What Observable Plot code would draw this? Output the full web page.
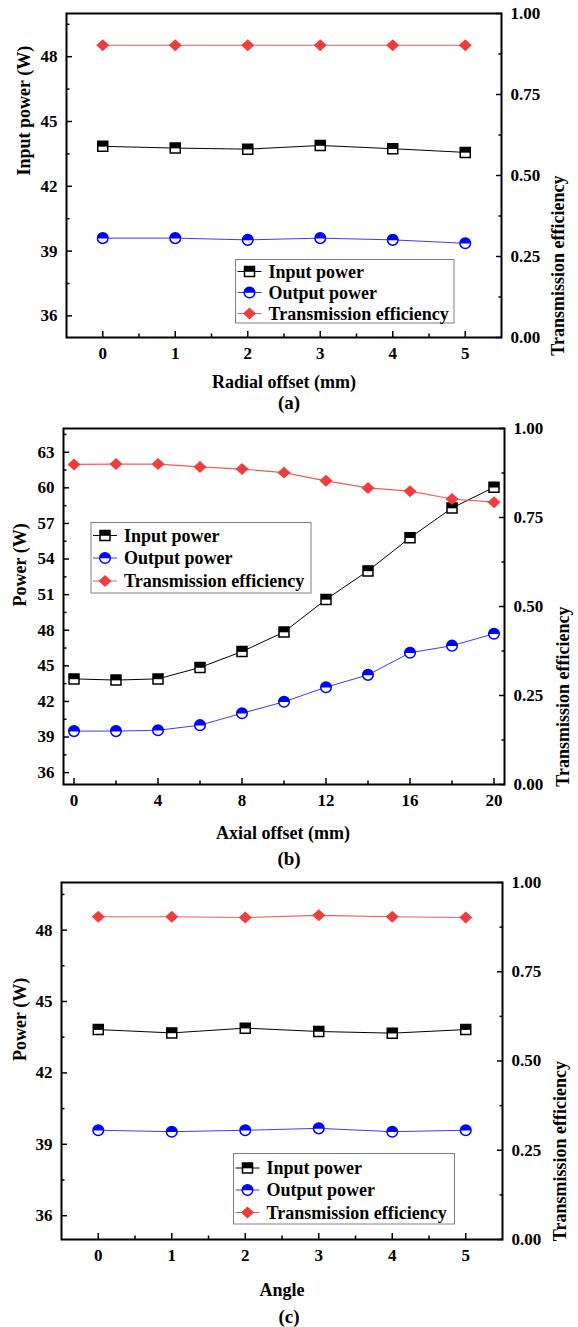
<!DOCTYPE html>
<html><head><meta charset="utf-8">
<script src="https://cdn.jsdelivr.net/npm/d3@7"></script>
<script src="https://cdn.jsdelivr.net/npm/@observablehq/plot@0.6"></script>
<style>
html,body{margin:0;padding:0;background:#fff;overflow:hidden;}
#chart svg{display:block;font-family:"Liberation Serif","Tinos","Times New Roman","DejaVu Serif","Noto Serif",serif !important;font-weight:bold !important;}
#chart svg text{font-family:"Liberation Serif","Tinos","Times New Roman","DejaVu Serif","Noto Serif",serif !important;font-weight:bold !important;}
</style></head><body><div id="chart"></div>
<script>
// ---------- data ----------
const seriesNames = ["Input power", "Output power", "Transmission efficiency"];

// (a) radial offset
const radialOffset = [0, 1, 2, 3, 4, 5];
const radialInput  = [43.85, 43.77, 43.72, 43.89, 43.74, 43.57];
const radialOutput = [39.60, 39.60, 39.52, 39.60, 39.52, 39.36];
const radialEff    = [0.902, 0.902, 0.902, 0.902, 0.902, 0.902];

// (b) axial offset
const axialOffset = [0, 2, 4, 6, 8, 10, 12, 14, 16, 18, 20];
const axialInput  = [43.9, 43.8, 43.9, 44.86, 46.2, 47.85, 50.6, 53.0, 55.8, 58.3, 60.05];
const axialOutput = [39.5, 39.5, 39.57, 40.0, 41.0, 41.97, 43.2, 44.24, 46.1, 46.7, 47.7];
const axialEff    = [0.899, 0.900, 0.900, 0.892, 0.886, 0.876, 0.853, 0.833, 0.824, 0.802, 0.793];

// (c) angle
const angleValues = [0, 1, 2, 3, 4, 5];
const angleInput  = [43.82, 43.68, 43.88, 43.74, 43.67, 43.82];
const angleOutput = [39.59, 39.53, 39.59, 39.67, 39.53, 39.59];
const angleEff    = [0.904, 0.904, 0.902, 0.908, 0.904, 0.902];

// tick values
const effTicks = [0, 0.25, 0.5, 0.75, 1];
const effMinor = [0.125, 0.375, 0.625, 0.875];
const powerTicksAC = [36, 39, 42, 45, 48];
const powerMinorAC = [37.5, 40.5, 43.5, 46.5, 49.5];
const powerTicksB = [36, 39, 42, 45, 48, 51, 54, 57, 60, 63];
const powerMinorB = [37.5, 40.5, 43.5, 46.5, 49.5, 52.5, 55.5, 58.5, 61.5, 64.5];
const xTicksAC = [0, 1, 2, 3, 4, 5];
const xMinorAC = [0.5, 1.5, 2.5, 3.5, 4.5];
const xTicksB = [0, 4, 8, 12, 16, 20];
const xMinorB = [2, 6, 10, 14, 18];

// ---------- symbols ----------
const rad = size => Math.sqrt(size / Math.PI);
const squareFull = {draw(c, size) { const s = rad(size); c.rect(-s, -s, 2 * s, 2 * s); }};
const squareTop  = {draw(c, size) { const s = rad(size); c.rect(-s, -s, 2 * s, s + 0.3); }};
const circleTop  = {draw(c, size) { const s = rad(size); c.moveTo(-s, 0.3); c.lineTo(-s, 0); c.arc(0, 0, s, Math.PI, 2 * Math.PI); c.lineTo(s, 0.3); c.closePath(); }};
const diamond    = {draw(c, size) { const s = rad(size); c.moveTo(0, -s * 0.92); c.lineTo(s, 0); c.lineTo(0, s * 0.92); c.lineTo(-s, 0); c.closePath(); }};

const BLUE = "#0000ff", BLUE_LINE = "#3a3aff", RED = "#f03c3c", RED_LINE = "#f55a5a";
const FONT = "'Liberation Serif','Tinos','Times New Roman','DejaVu Serif',serif";
const SQ = 5, CI = 5.3, DI = 6.5;

function symPath(sym, r) { const p = d3.path(); sym.draw(p, r * r * Math.PI); return p.toString(); }

function addLegend(svg, L) {
  const g = d3.select(svg).append("g");
  g.append("rect").attr("x", L.x).attr("y", L.y).attr("width", L.w).attr("height", L.h)
    .attr("fill", "white").attr("stroke", "#808080").attr("stroke-width", 1);
  const mx = L.x + 14;
  seriesNames.forEach((name, i) => {
    const cy = L.y + L.rows[i];
    const gi = g.append("g");
    const lc = [ "#000", BLUE_LINE, RED_LINE ][i];
    gi.append("line").attr("x1", L.x + 2).attr("x2", L.x + 26).attr("y1", cy).attr("y2", cy)
      .attr("stroke", lc).attr("stroke-width", 1);
    const t = `translate(${mx},${cy})`;
    if (i === 0) {
      gi.append("path").attr("d", symPath(squareFull, SQ)).attr("transform", t).attr("fill", "white").attr("stroke", "#000").attr("stroke-width", 1.5);
      gi.append("path").attr("d", symPath(squareTop, SQ)).attr("transform", t).attr("fill", "#000");
    } else if (i === 1) {
      gi.append("circle").attr("r", CI).attr("cx", mx).attr("cy", cy).attr("fill", "white").attr("stroke", BLUE).attr("stroke-width", 1.5);
      gi.append("path").attr("d", symPath(circleTop, CI)).attr("transform", t).attr("fill", BLUE);
    } else {
      gi.append("path").attr("d", symPath(diamond, DI)).attr("transform", t).attr("fill", RED);
    }
    gi.append("text").attr("x", L.x + 33).attr("y", cy).attr("dy", "0.35em")
      .attr("font-size", 18).attr("text-anchor", "start").text(name);
  });
}

function panel(P) {
  const [lo, hi] = P.yDomain;
  const e2p = d3.scaleLinear([0, 1], [lo, hi]);
  const rows = P.x.map((v, i) => ({x: v, input: P.input[i], output: P.output[i], eff: e2p(P.eff[i])}));
  const svg = Plot.plot({
    width: 578, height: P.height,
    marginTop: P.mt, marginBottom: P.mb, marginLeft: P.ml, marginRight: P.mr,
    style: {fontFamily: FONT, fontSize: "17px", fontWeight: "bold", background: "white", color: "black"},
    x: {domain: P.xDomain},
    y: {domain: P.yDomain},
    marks: [
      Plot.line(rows, {x: "x", y: "input", stroke: "#000", strokeWidth: 1}),
      Plot.line(rows, {x: "x", y: "output", stroke: BLUE_LINE, strokeWidth: 1}),
      Plot.line(rows, {x: "x", y: "eff", stroke: RED_LINE, strokeWidth: 1.2}),
      Plot.dot(rows, {x: "x", y: "input", symbol: squareFull, r: SQ, fill: "white", stroke: "#000", strokeWidth: 1.5}),
      Plot.dot(rows, {x: "x", y: "input", symbol: squareTop, r: SQ, fill: "#000"}),
      Plot.dot(rows, {x: "x", y: "output", r: CI, fill: "white", stroke: BLUE, strokeWidth: 1.5}),
      Plot.dot(rows, {x: "x", y: "output", symbol: circleTop, r: CI, fill: BLUE}),
      Plot.dot(rows, {x: "x", y: "eff", symbol: diamond, r: DI, fill: RED}),
      // x axis
      Plot.axisX(P.xTicks, {anchor: "bottom", tickSize: -6, tickFormat: () => "", label: null, strokeWidth: 1.5}),
      Plot.axisX(P.xMinor, {anchor: "bottom", tickSize: -3.5, tickFormat: () => "", label: null, strokeWidth: 1.5}),
      Plot.axisX(P.xTicks, {anchor: "bottom", tickSize: 0, tickPadding: 9, tickFormat: d => String(d), label: null}),
      // left y axis
      Plot.axisY(P.yTicks, {anchor: "left", tickSize: -6, tickFormat: () => "", label: null, strokeWidth: 1.5}),
      Plot.axisY(P.yMinor, {anchor: "left", tickSize: -3.5, tickFormat: () => "", label: null, strokeWidth: 1.5}),
      Plot.axisY(P.yTicks, {anchor: "left", tickSize: 0, tickPadding: 9, tickFormat: d => String(d), label: null}),
      // right y axis (efficiency)
      Plot.axisY(effTicks.map(e2p), {anchor: "right", tickSize: -6, tickFormat: () => "", label: null, strokeWidth: 1.5}),
      Plot.axisY(effMinor.map(e2p), {anchor: "right", tickSize: -3.5, tickFormat: () => "", label: null, strokeWidth: 1.5}),
      Plot.axisY(effTicks.map(e2p), {anchor: "right", tickSize: 0, tickPadding: 9, tickFormat: v => d3.format(".2f")(e2p.invert(v)), label: null}),
      Plot.frame({stroke: "#000", strokeWidth: 2}),
      // titles
      Plot.text([P.xLabel], {text: d => d, frameAnchor: "bottom", dy: P.xTitleDy, dx: P.xTitleDx, lineAnchor: "middle", fontSize: 18}),
      Plot.text([P.caption], {text: d => d, frameAnchor: "bottom", dy: P.capDy, dx: P.capDx, lineAnchor: "middle", fontSize: 19}),
      Plot.text([P.yLabel], {text: d => d, frameAnchor: "left", dx: P.yTitleDx, rotate: -90, lineAnchor: "middle", fontSize: 18}),
      Plot.text(["Transmission efficiency"], {text: d => d, frameAnchor: "right", dx: P.rTitleDx, rotate: -90, lineAnchor: "middle", fontSize: 18})
    ]
  });
  addLegend(svg, P.legend);
  return svg;
}

const root = document.getElementById("chart");
root.append(panel({
  x: radialOffset, input: radialInput, output: radialOutput, eff: radialEff,
  height: 415, mt: 13, mb: 78, ml: 66, mr: 77,
  xDomain: [-0.5, 5.5], yDomain: [35, 50],
  xTicks: xTicksAC, xMinor: xMinorAC, yTicks: powerTicksAC, yMinor: powerMinorAC,
  xLabel: "Radial offset (mm)", yLabel: "Input power (W)", caption: "(a)",
  xTitleDy: 45, xTitleDx: 0, capDy: 65, capDx: 5, yTitleDx: -42, rTitleDx: 57,
  legend: {x: 235.5, y: 259.5, w: 218.5, h: 63.5, rows: [12, 33, 54]}
}));
root.append(panel({
  x: axialOffset, input: axialInput, output: axialOutput, eff: axialEff,
  height: 455, mt: 13, mb: 86, ml: 63, mr: 74,
  xDomain: [-0.5, 20.5], yDomain: [35, 65],
  xTicks: xTicksB, xMinor: xMinorB, yTicks: powerTicksB, yMinor: powerMinorB,
  xLabel: "Axial offset (mm)", yLabel: "Power (W)", caption: "(b)",
  xTitleDy: 49, xTitleDx: -1, capDy: 74, capDx: 5, yTitleDx: -43, rTitleDx: 59,
  legend: {x: 91, y: 107.5, w: 220, h: 70.5, rows: [13, 35.5, 58.5]}
}));
root.append(panel({
  x: angleValues, input: angleInput, output: angleOutput, eff: angleEff,
  height: 457, mt: 12, mb: 88, ml: 61, mr: 76,
  xDomain: [-0.5, 5.5], yDomain: [35, 50],
  xTicks: xTicksAC, xMinor: xMinorAC, yTicks: powerTicksAC, yMinor: powerMinorAC,
  xLabel: "Angle", yLabel: "Power (W)", caption: "(c)",
  xTitleDy: 51, xTitleDx: 0, capDy: 77, capDx: 7, yTitleDx: -41, rTitleDx: 58,
  legend: {x: 233.5, y: 283.5, w: 221, h: 70.5, rows: [14.5, 36.5, 59]}
}));
</script>
</body></html>
